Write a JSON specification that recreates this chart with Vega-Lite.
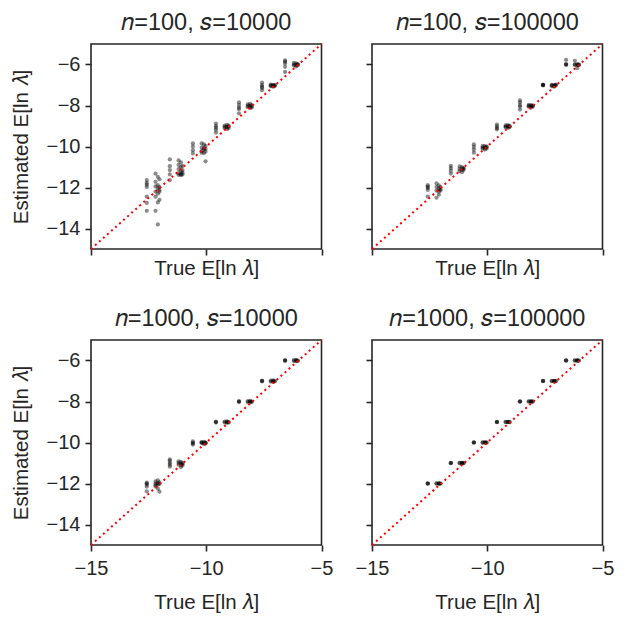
{
  "$schema": "https://vega.github.io/schema/vega-lite/v6.json",
  "background": "white",
  "padding": {"left": 10, "top": 9, "right": 10, "bottom": 6},
  "config": {
    "font": "Liberation Sans",
    "view": {"stroke": "#262626", "strokeWidth": 1.6},
    "axis": {
      "domain": false, "grid": false, "ticks": true,
      "tickColor": "#262626", "tickWidth": 1.6, "tickSize": 6,
      "labelFontSize": 20, "labelColor": "#262626", "labelPadding": 5, "labelFlush": false,
      "titleFontSize": 20.5, "titleFontWeight": "normal", "titleColor": "#262626", "titlePadding": 10
    },
    "axisX": {"labelPadding": 7, "titlePadding": 14},
    "axisY": {"titlePadding": 15},
    "title": {"fontSize": 23.5, "fontWeight": "normal", "color": "#262626", "offset": 6}
  },
  "datasets": {
    "diag": [{"x": -15, "y": -15}, {"x": -5, "y": -5}],
    "pts": [
      {"p":1,"x":-12.58,"y":-11.64},{"p":1,"x":-12.58,"y":-11.78},{"p":1,"x":-12.58,"y":-11.86},{"p":1,"x":-12.58,"y":-11.97},{"p":1,"x":-12.58,"y":-12.45},{"p":1,"x":-12.58,"y":-12.75},{"p":1,"x":-12.58,"y":-13.14},
      {"p":1,"x":-12.2,"y":-11.32},{"p":1,"x":-12.2,"y":-11.72},{"p":1,"x":-12.2,"y":-11.95},{"p":1,"x":-12.2,"y":-12.2},{"p":1,"x":-12.2,"y":-12.45},{"p":1,"x":-12.2,"y":-13.14},
      {"p":1,"x":-12.1,"y":-11.48},{"p":1,"x":-12.1,"y":-11.89},{"p":1,"x":-12.1,"y":-12.05},{"p":1,"x":-12.1,"y":-12.3},{"p":1,"x":-12.1,"y":-12.73},{"p":1,"x":-12.1,"y":-13.8},
      {"p":1,"x":-12.03,"y":-11.6},{"p":1,"x":-12.03,"y":-11.98},{"p":1,"x":-12.03,"y":-12.12},{"p":1,"x":-12.03,"y":-12.21},{"p":1,"x":-12.03,"y":-12.6},
      {"p":1,"x":-11.58,"y":-10.63},{"p":1,"x":-11.58,"y":-10.96},{"p":1,"x":-11.58,"y":-11.15},{"p":1,"x":-11.58,"y":-11.36},{"p":1,"x":-11.58,"y":-11.64},
      {"p":1,"x":-11.2,"y":-10.68},{"p":1,"x":-11.2,"y":-10.9},{"p":1,"x":-11.2,"y":-11.1},{"p":1,"x":-11.2,"y":-11.3},{"p":1,"x":-11.2,"y":-11.38},
      {"p":1,"x":-11.1,"y":-10.78},{"p":1,"x":-11.1,"y":-11.0},{"p":1,"x":-11.1,"y":-11.2},{"p":1,"x":-11.1,"y":-11.35},{"p":1,"x":-11.1,"y":-11.4},
      {"p":1,"x":-11.03,"y":-10.95},{"p":1,"x":-11.03,"y":-11.15},{"p":1,"x":-11.03,"y":-11.28},{"p":1,"x":-11.03,"y":-11.36},
      {"p":1,"x":-10.58,"y":-9.85},{"p":1,"x":-10.58,"y":-10.0},{"p":1,"x":-10.58,"y":-10.18},{"p":1,"x":-10.58,"y":-10.34},
      {"p":1,"x":-10.2,"y":-9.85},{"p":1,"x":-10.2,"y":-10.05},{"p":1,"x":-10.2,"y":-10.22},{"p":1,"x":-10.2,"y":-10.3},
      {"p":1,"x":-10.1,"y":-9.9},{"p":1,"x":-10.1,"y":-10.08},{"p":1,"x":-10.1,"y":-10.15},{"p":1,"x":-10.1,"y":-10.32},
      {"p":1,"x":-10.03,"y":-9.97},{"p":1,"x":-10.03,"y":-10.12},{"p":1,"x":-10.03,"y":-10.25},{"p":1,"x":-10.03,"y":-10.72},
      {"p":1,"x":-9.58,"y":-8.88},{"p":1,"x":-9.58,"y":-9.0},{"p":1,"x":-9.58,"y":-9.08},{"p":1,"x":-9.58,"y":-9.18},{"p":1,"x":-9.58,"y":-9.32},
      {"p":1,"x":-9.2,"y":-8.98},{"p":1,"x":-9.2,"y":-9.04},{"p":1,"x":-9.2,"y":-9.1},
      {"p":1,"x":-9.1,"y":-8.95},{"p":1,"x":-9.1,"y":-9.05},{"p":1,"x":-9.1,"y":-9.15},
      {"p":1,"x":-9.03,"y":-8.98},{"p":1,"x":-9.03,"y":-9.03},{"p":1,"x":-9.03,"y":-9.1},
      {"p":1,"x":-8.58,"y":-7.85},{"p":1,"x":-8.58,"y":-7.98},{"p":1,"x":-8.58,"y":-8.1},{"p":1,"x":-8.58,"y":-8.18},{"p":1,"x":-8.58,"y":-8.39},
      {"p":1,"x":-8.2,"y":-7.95},{"p":1,"x":-8.2,"y":-8.02},{"p":1,"x":-8.2,"y":-8.08},
      {"p":1,"x":-8.1,"y":-7.92},{"p":1,"x":-8.1,"y":-8.02},{"p":1,"x":-8.1,"y":-8.12},
      {"p":1,"x":-8.03,"y":-7.98},{"p":1,"x":-8.03,"y":-8.05},{"p":1,"x":-8.03,"y":-8.1},
      {"p":1,"x":-7.58,"y":-6.88},{"p":1,"x":-7.58,"y":-7.0},{"p":1,"x":-7.58,"y":-7.08},{"p":1,"x":-7.58,"y":-7.14},{"p":1,"x":-7.58,"y":-7.25},
      {"p":1,"x":-7.2,"y":-6.98},{"p":1,"x":-7.2,"y":-7.02},{"p":1,"x":-7.2,"y":-7.06},
      {"p":1,"x":-7.1,"y":-6.99},{"p":1,"x":-7.1,"y":-7.04},{"p":1,"x":-7.1,"y":-7.08},
      {"p":1,"x":-7.03,"y":-7.0},{"p":1,"x":-7.03,"y":-7.05},{"p":1,"x":-7.03,"y":-7.02},
      {"p":1,"x":-6.58,"y":-5.8},{"p":1,"x":-6.58,"y":-5.86},{"p":1,"x":-6.58,"y":-5.95},{"p":1,"x":-6.58,"y":-6.11},{"p":1,"x":-6.58,"y":-6.36},
      {"p":1,"x":-6.2,"y":-5.92},{"p":1,"x":-6.2,"y":-6.0},{"p":1,"x":-6.2,"y":-6.05},
      {"p":1,"x":-6.1,"y":-5.95},{"p":1,"x":-6.1,"y":-6.02},{"p":1,"x":-6.1,"y":-6.1},
      {"p":1,"x":-6.03,"y":-5.98},{"p":1,"x":-6.03,"y":-6.04},{"p":1,"x":-6.03,"y":-6.0},

      {"p":2,"x":-12.58,"y":-11.89},{"p":2,"x":-12.58,"y":-11.96},{"p":2,"x":-12.58,"y":-12.02},{"p":2,"x":-12.58,"y":-12.12},{"p":2,"x":-12.58,"y":-12.45},
      {"p":2,"x":-12.2,"y":-11.8},{"p":2,"x":-12.2,"y":-11.98},{"p":2,"x":-12.2,"y":-12.15},{"p":2,"x":-12.2,"y":-12.5},
      {"p":2,"x":-12.1,"y":-11.9},{"p":2,"x":-12.1,"y":-12.05},{"p":2,"x":-12.1,"y":-12.2},{"p":2,"x":-12.1,"y":-12.35},
      {"p":2,"x":-12.03,"y":-11.98},{"p":2,"x":-12.03,"y":-12.08},{"p":2,"x":-12.03,"y":-12.15},
      {"p":2,"x":-11.58,"y":-10.94},{"p":2,"x":-11.58,"y":-11.05},{"p":2,"x":-11.58,"y":-11.18},{"p":2,"x":-11.58,"y":-11.32},
      {"p":2,"x":-11.2,"y":-10.97},{"p":2,"x":-11.2,"y":-11.1},{"p":2,"x":-11.2,"y":-11.2},
      {"p":2,"x":-11.1,"y":-11.0},{"p":2,"x":-11.1,"y":-11.12},{"p":2,"x":-11.1,"y":-11.25},
      {"p":2,"x":-11.03,"y":-11.05},{"p":2,"x":-11.03,"y":-11.15},{"p":2,"x":-11.03,"y":-11.08},
      {"p":2,"x":-10.58,"y":-9.9},{"p":2,"x":-10.58,"y":-10.02},{"p":2,"x":-10.58,"y":-10.15},{"p":2,"x":-10.58,"y":-10.3},
      {"p":2,"x":-10.2,"y":-9.97},{"p":2,"x":-10.2,"y":-10.05},{"p":2,"x":-10.2,"y":-10.1},
      {"p":2,"x":-10.1,"y":-9.98},{"p":2,"x":-10.1,"y":-10.05},{"p":2,"x":-10.1,"y":-10.15},
      {"p":2,"x":-10.03,"y":-10.0},{"p":2,"x":-10.03,"y":-10.1},{"p":2,"x":-10.03,"y":-10.04},
      {"p":2,"x":-9.58,"y":-8.93},{"p":2,"x":-9.58,"y":-9.02},{"p":2,"x":-9.58,"y":-9.1},{"p":2,"x":-9.58,"y":-9.16},
      {"p":2,"x":-9.2,"y":-8.97},{"p":2,"x":-9.2,"y":-9.03},{"p":2,"x":-9.2,"y":-9.06},
      {"p":2,"x":-9.1,"y":-8.96},{"p":2,"x":-9.1,"y":-9.02},{"p":2,"x":-9.1,"y":-9.09},
      {"p":2,"x":-9.03,"y":-9.0},{"p":2,"x":-9.03,"y":-9.05},{"p":2,"x":-9.03,"y":-9.02},
      {"p":2,"x":-8.58,"y":-7.75},{"p":2,"x":-8.58,"y":-7.85},{"p":2,"x":-8.58,"y":-7.98},{"p":2,"x":-8.58,"y":-8.05},{"p":2,"x":-8.58,"y":-8.2},
      {"p":2,"x":-8.2,"y":-7.97},{"p":2,"x":-8.2,"y":-8.02},{"p":2,"x":-8.2,"y":-8.06},
      {"p":2,"x":-8.1,"y":-7.98},{"p":2,"x":-8.1,"y":-8.03},{"p":2,"x":-8.1,"y":-8.1},
      {"p":2,"x":-8.03,"y":-8.0},{"p":2,"x":-8.03,"y":-8.06},{"p":2,"x":-8.03,"y":-8.02},
      {"p":2,"x":-7.58,"y":-6.98},{"p":2,"x":-7.58,"y":-7.0},{"p":2,"x":-7.58,"y":-7.02},{"p":2,"x":-7.58,"y":-7.0},
      {"p":2,"x":-7.2,"y":-6.99},{"p":2,"x":-7.2,"y":-7.02},{"p":2,"x":-7.2,"y":-7.05},
      {"p":2,"x":-7.1,"y":-7.0},{"p":2,"x":-7.1,"y":-7.04},{"p":2,"x":-7.1,"y":-7.08},
      {"p":2,"x":-7.03,"y":-6.98},{"p":2,"x":-7.03,"y":-7.03},{"p":2,"x":-7.03,"y":-7.0},
      {"p":2,"x":-6.58,"y":-5.78},{"p":2,"x":-6.58,"y":-5.98},{"p":2,"x":-6.58,"y":-6.0},{"p":2,"x":-6.58,"y":-6.02},
      {"p":2,"x":-6.2,"y":-5.82},{"p":2,"x":-6.2,"y":-6.0},{"p":2,"x":-6.2,"y":-6.02},
      {"p":2,"x":-6.1,"y":-5.98},{"p":2,"x":-6.1,"y":-6.03},{"p":2,"x":-6.1,"y":-6.18},
      {"p":2,"x":-6.03,"y":-6.0},{"p":2,"x":-6.03,"y":-6.04},{"p":2,"x":-6.03,"y":-6.01},

      {"p":3,"x":-12.58,"y":-11.96},{"p":3,"x":-12.58,"y":-12.0},{"p":3,"x":-12.58,"y":-12.05},{"p":3,"x":-12.58,"y":-12.15},{"p":3,"x":-12.58,"y":-12.38},
      {"p":3,"x":-12.2,"y":-11.9},{"p":3,"x":-12.2,"y":-12.0},{"p":3,"x":-12.2,"y":-12.08},{"p":3,"x":-12.2,"y":-12.15},
      {"p":3,"x":-12.1,"y":-11.85},{"p":3,"x":-12.1,"y":-11.98},{"p":3,"x":-12.1,"y":-12.05},{"p":3,"x":-12.1,"y":-12.25},
      {"p":3,"x":-12.03,"y":-11.95},{"p":3,"x":-12.03,"y":-12.02},{"p":3,"x":-12.03,"y":-12.4},
      {"p":3,"x":-11.58,"y":-10.82},{"p":3,"x":-11.58,"y":-10.9},{"p":3,"x":-11.58,"y":-11.0},{"p":3,"x":-11.58,"y":-11.08},{"p":3,"x":-11.58,"y":-11.18},
      {"p":3,"x":-11.2,"y":-10.92},{"p":3,"x":-11.2,"y":-11.0},{"p":3,"x":-11.2,"y":-11.08},
      {"p":3,"x":-11.1,"y":-10.95},{"p":3,"x":-11.1,"y":-11.02},{"p":3,"x":-11.1,"y":-11.1},{"p":3,"x":-11.1,"y":-11.2},
      {"p":3,"x":-11.03,"y":-11.0},{"p":3,"x":-11.03,"y":-11.05},{"p":3,"x":-11.03,"y":-11.12},
      {"p":3,"x":-10.58,"y":-9.95},{"p":3,"x":-10.58,"y":-10.0},{"p":3,"x":-10.58,"y":-10.05},{"p":3,"x":-10.58,"y":-10.1},
      {"p":3,"x":-10.2,"y":-9.98},{"p":3,"x":-10.2,"y":-10.03},{"p":3,"x":-10.2,"y":-10.0},
      {"p":3,"x":-10.1,"y":-9.97},{"p":3,"x":-10.1,"y":-10.02},{"p":3,"x":-10.1,"y":-10.08},
      {"p":3,"x":-10.03,"y":-10.0},{"p":3,"x":-10.03,"y":-10.05},{"p":3,"x":-10.03,"y":-10.02},
      {"p":3,"x":-9.58,"y":-8.98},{"p":3,"x":-9.58,"y":-9.0},{"p":3,"x":-9.58,"y":-9.03},
      {"p":3,"x":-9.2,"y":-8.98},{"p":3,"x":-9.2,"y":-9.03},
      {"p":3,"x":-9.1,"y":-8.97},{"p":3,"x":-9.1,"y":-9.0},{"p":3,"x":-9.1,"y":-9.04},
      {"p":3,"x":-9.03,"y":-9.0},{"p":3,"x":-9.03,"y":-9.02},
      {"p":3,"x":-8.58,"y":-7.98},{"p":3,"x":-8.58,"y":-8.0},{"p":3,"x":-8.58,"y":-8.03},
      {"p":3,"x":-8.2,"y":-7.98},{"p":3,"x":-8.2,"y":-8.03},
      {"p":3,"x":-8.1,"y":-7.97},{"p":3,"x":-8.1,"y":-8.0},{"p":3,"x":-8.1,"y":-8.04},
      {"p":3,"x":-8.03,"y":-8.0},{"p":3,"x":-8.03,"y":-8.02},
      {"p":3,"x":-7.58,"y":-6.98},{"p":3,"x":-7.58,"y":-7.0},{"p":3,"x":-7.58,"y":-7.02},
      {"p":3,"x":-7.2,"y":-6.98},{"p":3,"x":-7.2,"y":-7.03},
      {"p":3,"x":-7.1,"y":-6.97},{"p":3,"x":-7.1,"y":-7.0},{"p":3,"x":-7.1,"y":-7.04},
      {"p":3,"x":-7.03,"y":-7.0},{"p":3,"x":-7.03,"y":-7.02},
      {"p":3,"x":-6.58,"y":-5.98},{"p":3,"x":-6.58,"y":-6.0},{"p":3,"x":-6.58,"y":-6.02},
      {"p":3,"x":-6.2,"y":-5.98},{"p":3,"x":-6.2,"y":-6.03},
      {"p":3,"x":-6.1,"y":-5.97},{"p":3,"x":-6.1,"y":-6.0},{"p":3,"x":-6.1,"y":-6.04},
      {"p":3,"x":-6.03,"y":-6.0},{"p":3,"x":-6.03,"y":-6.02},

      {"p":4,"x":-12.58,"y":-11.99},{"p":4,"x":-12.58,"y":-12.0},{"p":4,"x":-12.58,"y":-12.01},
      {"p":4,"x":-12.2,"y":-11.99},{"p":4,"x":-12.2,"y":-12.01},
      {"p":4,"x":-12.1,"y":-11.99},{"p":4,"x":-12.1,"y":-12.0},{"p":4,"x":-12.1,"y":-12.01},
      {"p":4,"x":-12.03,"y":-12.0},{"p":4,"x":-12.03,"y":-12.01},
      {"p":4,"x":-11.58,"y":-10.99},{"p":4,"x":-11.58,"y":-11.0},{"p":4,"x":-11.58,"y":-11.01},
      {"p":4,"x":-11.2,"y":-10.99},{"p":4,"x":-11.2,"y":-11.01},
      {"p":4,"x":-11.1,"y":-10.99},{"p":4,"x":-11.1,"y":-11.0},{"p":4,"x":-11.1,"y":-11.01},
      {"p":4,"x":-11.03,"y":-11.0},{"p":4,"x":-11.03,"y":-11.01},
      {"p":4,"x":-10.58,"y":-9.99},{"p":4,"x":-10.58,"y":-10.0},{"p":4,"x":-10.58,"y":-10.01},
      {"p":4,"x":-10.2,"y":-9.99},{"p":4,"x":-10.2,"y":-10.01},
      {"p":4,"x":-10.1,"y":-9.99},{"p":4,"x":-10.1,"y":-10.0},{"p":4,"x":-10.1,"y":-10.01},
      {"p":4,"x":-10.03,"y":-10.0},{"p":4,"x":-10.03,"y":-10.01},
      {"p":4,"x":-9.58,"y":-8.99},{"p":4,"x":-9.58,"y":-9.0},{"p":4,"x":-9.58,"y":-9.01},
      {"p":4,"x":-9.2,"y":-8.99},{"p":4,"x":-9.2,"y":-9.01},
      {"p":4,"x":-9.1,"y":-8.99},{"p":4,"x":-9.1,"y":-9.0},{"p":4,"x":-9.1,"y":-9.01},
      {"p":4,"x":-9.03,"y":-9.0},{"p":4,"x":-9.03,"y":-9.01},
      {"p":4,"x":-8.58,"y":-7.99},{"p":4,"x":-8.58,"y":-8.0},{"p":4,"x":-8.58,"y":-8.01},
      {"p":4,"x":-8.2,"y":-7.99},{"p":4,"x":-8.2,"y":-8.01},
      {"p":4,"x":-8.1,"y":-7.99},{"p":4,"x":-8.1,"y":-8.0},{"p":4,"x":-8.1,"y":-8.01},
      {"p":4,"x":-8.03,"y":-8.0},{"p":4,"x":-8.03,"y":-8.01},
      {"p":4,"x":-7.58,"y":-6.99},{"p":4,"x":-7.58,"y":-7.0},{"p":4,"x":-7.58,"y":-7.01},
      {"p":4,"x":-7.2,"y":-6.99},{"p":4,"x":-7.2,"y":-7.01},
      {"p":4,"x":-7.1,"y":-6.99},{"p":4,"x":-7.1,"y":-7.0},{"p":4,"x":-7.1,"y":-7.01},
      {"p":4,"x":-7.03,"y":-7.0},{"p":4,"x":-7.03,"y":-7.01},
      {"p":4,"x":-6.58,"y":-5.99},{"p":4,"x":-6.58,"y":-6.0},{"p":4,"x":-6.58,"y":-6.01},
      {"p":4,"x":-6.2,"y":-5.99},{"p":4,"x":-6.2,"y":-6.01},
      {"p":4,"x":-6.1,"y":-5.99},{"p":4,"x":-6.1,"y":-6.0},{"p":4,"x":-6.1,"y":-6.01},
      {"p":4,"x":-6.03,"y":-6.0},{"p":4,"x":-6.03,"y":-6.01}
    ]
  },
  "columns": 2,
  "spacing": {"row": 91, "column": 50},
  "bounds": "flush",
  "concat": [
    {
      "width": 230.5, "height": 205,
      "title": "𝑛=100, 𝑠=10000",
      "layer": [
        {"data": {"name": "pts"}, "transform": [{"filter": "datum.p == 1"}],
         "mark": {"type": "circle", "size": 18, "opacity": 0.45, "color": "black"},
         "encoding": {
           "x": {"field": "x", "type": "quantitative", "scale": {"domain": [-15, -5], "nice": false}, "axis": {"values": [-15, -10, -5], "labels": false, "title": "True E[ln 𝜆]", "titlePadding": 3}},
           "y": {"field": "y", "type": "quantitative", "scale": {"domain": [-15, -5], "nice": false}, "axis": {"values": [-14, -12, -10, -8, -6], "title": "Estimated E[ln 𝜆]"}}
         }},
        {"data": {"name": "diag"}, "mark": {"type": "line", "color": "red", "strokeWidth": 2, "strokeDash": [2, 3.4]},
         "encoding": {"x": {"field": "x", "type": "quantitative"}, "y": {"field": "y", "type": "quantitative"}}}
      ]
    },
    {
      "width": 230.5, "height": 205,
      "title": "𝑛=100, 𝑠=100000",
      "layer": [
        {"data": {"name": "pts"}, "transform": [{"filter": "datum.p == 2"}],
         "mark": {"type": "circle", "size": 18, "opacity": 0.45, "color": "black"},
         "encoding": {
           "x": {"field": "x", "type": "quantitative", "scale": {"domain": [-15, -5], "nice": false}, "axis": {"values": [-15, -10, -5], "labels": false, "title": "True E[ln 𝜆]", "titlePadding": 3}},
           "y": {"field": "y", "type": "quantitative", "scale": {"domain": [-15, -5], "nice": false}, "axis": {"values": [-14, -12, -10, -8, -6], "labels": false, "title": null}}
         }},
        {"data": {"name": "diag"}, "mark": {"type": "line", "color": "red", "strokeWidth": 2, "strokeDash": [2, 3.4]},
         "encoding": {"x": {"field": "x", "type": "quantitative"}, "y": {"field": "y", "type": "quantitative"}}}
      ]
    },
    {
      "width": 230.5, "height": 205,
      "title": "𝑛=1000, 𝑠=10000",
      "layer": [
        {"data": {"name": "pts"}, "transform": [{"filter": "datum.p == 3"}],
         "mark": {"type": "circle", "size": 18, "opacity": 0.45, "color": "black"},
         "encoding": {
           "x": {"field": "x", "type": "quantitative", "scale": {"domain": [-15, -5], "nice": false}, "axis": {"values": [-15, -10, -5], "title": "True E[ln 𝜆]"}},
           "y": {"field": "y", "type": "quantitative", "scale": {"domain": [-15, -5], "nice": false}, "axis": {"values": [-14, -12, -10, -8, -6], "title": "Estimated E[ln 𝜆]"}}
         }},
        {"data": {"name": "diag"}, "mark": {"type": "line", "color": "red", "strokeWidth": 2, "strokeDash": [2, 3.4]},
         "encoding": {"x": {"field": "x", "type": "quantitative"}, "y": {"field": "y", "type": "quantitative"}}}
      ]
    },
    {
      "width": 230.5, "height": 205,
      "title": "𝑛=1000, 𝑠=100000",
      "layer": [
        {"data": {"name": "pts"}, "transform": [{"filter": "datum.p == 4"}],
         "mark": {"type": "circle", "size": 18, "opacity": 0.45, "color": "black"},
         "encoding": {
           "x": {"field": "x", "type": "quantitative", "scale": {"domain": [-15, -5], "nice": false}, "axis": {"values": [-15, -10, -5], "title": "True E[ln 𝜆]"}},
           "y": {"field": "y", "type": "quantitative", "scale": {"domain": [-15, -5], "nice": false}, "axis": {"values": [-14, -12, -10, -8, -6], "labels": false, "title": null}}
         }},
        {"data": {"name": "diag"}, "mark": {"type": "line", "color": "red", "strokeWidth": 2, "strokeDash": [2, 3.4]},
         "encoding": {"x": {"field": "x", "type": "quantitative"}, "y": {"field": "y", "type": "quantitative"}}}
      ]
    }
  ]
}
